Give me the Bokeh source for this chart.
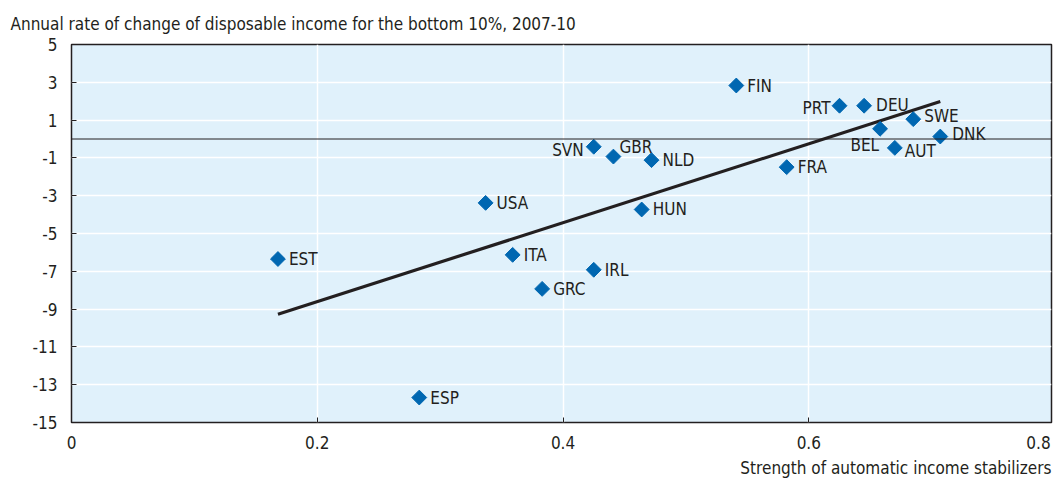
import numpy as np
from bokeh.plotting import figure
from bokeh.models import ColumnDataSource, FixedTicker, Title, Span, Range1d
from bokeh.embed import file_html
from bokeh.resources import INLINE
from bokeh.core.properties import value

# ---- data ----
countries = ["EST", "ESP", "USA", "ITA", "GRC", "IRL", "SVN", "GBR", "HUN",
             "NLD", "FIN", "FRA", "PRT", "DEU", "BEL", "AUT", "SWE", "DNK"]
stabilizers = [0.168, 0.283, 0.337, 0.359, 0.383, 0.425, 0.425, 0.441, 0.464,
               0.472, 0.541, 0.582, 0.625, 0.645, 0.658, 0.670, 0.685, 0.707]
income_change = [-6.35, -13.68, -3.38, -6.13, -7.93, -6.92, -0.41, -0.93, -3.73,
                 -1.12, 2.83, -1.49, 1.76, 1.76, 0.54, -0.47, 1.05, 0.13]
trend_x = [0.168, 0.707]
trend_y = [-9.27, 1.98]
x_ticks = [0, 0.2, 0.4, 0.6, 0.8]
x_tick_labels = ["0", "0.2", "0.4", "0.6", "0.8"]
y_ticks = [-15, -13, -11, -9, -7, -5, -3, -1, 1, 3, 5]
y_tick_labels = ["-15", "-13", "-11", "-9", "-7", "-5", "-3", "-1", "1", "3", "5"]
title_text = "Annual rate of change of disposable income for the bottom 10%, 2007-10"
x_title = "Strength of automatic income stabilizers"

# ---- label placement (style) ----
default_off = (11, 0, "left")
special_off = {
    "SVN": (-10, 3, "right"),
    "GBR": (6, -10, "left"),
    "PRT": (-9, 2, "right"),
    "BEL": (-1, 16, "right"),
    "AUT": (10, 3, "left"),
    "DNK": (12, -3, "left"),
    "SWE": (11, -3, "left"),
    "DEU": (12, -1, "left"),
}

FONT = "DejaVu Sans Condensed, Roboto"
TXT = "#231F20"
BLUE = "#0067B1"
BG = "#E0F1FB"
FS = "17px"

# the frame stops just short of 0.8; its last tick label is drawn at the frame edge
x_end = 0.7975
axis_ticks = x_ticks[:-1] + [x_end]
axis_labels = x_tick_labels[:-1] + [x_tick_labels[-1] + "\u00a0"]

p = figure(frame_width=980, frame_height=378,
           x_range=Range1d(0, x_end), y_range=Range1d(-15, 5),
           output_backend="svg", toolbar_location=None,
           min_border_left=71, min_border_right=4, min_border_top=43,
           min_border_bottom=57,
           background_fill_color=BG, border_fill_color="white")

p.outline_line_color = TXT
p.outline_line_width = 1.5

# title (y axis description) top-left
p.title.text = title_text
p.title.align = "left"
p.title.offset = -61
p.title.standoff = 22
p.title.text_font = FONT
p.title.text_font_size = FS
p.title.text_font_style = "normal"
p.title.text_color = TXT

p.add_layout(Title(text=x_title, align="right", text_font=FONT,
                   text_font_size=FS, text_font_style="normal",
                   text_color=TXT, standoff=0), "below")

# grids
p.xgrid.ticker = FixedTicker(ticks=x_ticks[:-1])
p.ygrid.ticker = FixedTicker(ticks=y_ticks)
for g in (p.xgrid, p.ygrid):
    g.grid_line_color = "white"
    g.grid_line_width = 1.5

# axes
p.xaxis.ticker = FixedTicker(ticks=axis_ticks)
p.xaxis.major_label_overrides = {t: l for t, l in zip(axis_ticks, axis_labels)}
p.yaxis.ticker = FixedTicker(ticks=y_ticks)
p.yaxis.major_label_overrides = {t: l for t, l in zip(y_ticks, y_tick_labels)}
for ax in (p.xaxis, p.yaxis):
    ax.axis_line_color = None
    ax.major_tick_in = 5
    ax.major_tick_out = 0
    ax.major_tick_line_color = TXT
    ax.minor_tick_line_color = None
    ax.major_label_text_font = FONT
    ax.major_label_text_font_size = FS
    ax.major_label_text_color = TXT
    ax.major_label_standoff = 14
p.xaxis.major_label_standoff = 10

# zero line
p.add_layout(Span(location=0, dimension="width", line_color=TXT, line_width=1))

# trend line
p.line(trend_x, trend_y, line_color=TXT, line_width=3.2)

# points
src = ColumnDataSource(dict(x=stabilizers, y=income_change, name=countries))
p.scatter("x", "y", source=src, marker="square", angle=np.pi / 4, size=10.5,
          fill_color=BLUE, line_color=BLUE)

# labels
for align in ("left", "right"):
    xs, ys, ts, xo, yo = [], [], [], [], []
    for c, x, y in zip(countries, stabilizers, income_change):
        dx, dy, a = special_off.get(c, default_off)
        if a != align:
            continue
        xs.append(x); ys.append(y); ts.append(c); xo.append(dx); yo.append(dy)
    s = ColumnDataSource(dict(x=xs, y=ys, t=ts, xo=xo, yo=yo))
    p.text("x", "y", text="t", source=s, x_offset="xo", y_offset="yo",
           text_align=align, text_baseline="middle",
           text_font=value(FONT), text_font_size=FS, text_color=TXT)

open("out.html", "w").write(file_html(p, INLINE))
